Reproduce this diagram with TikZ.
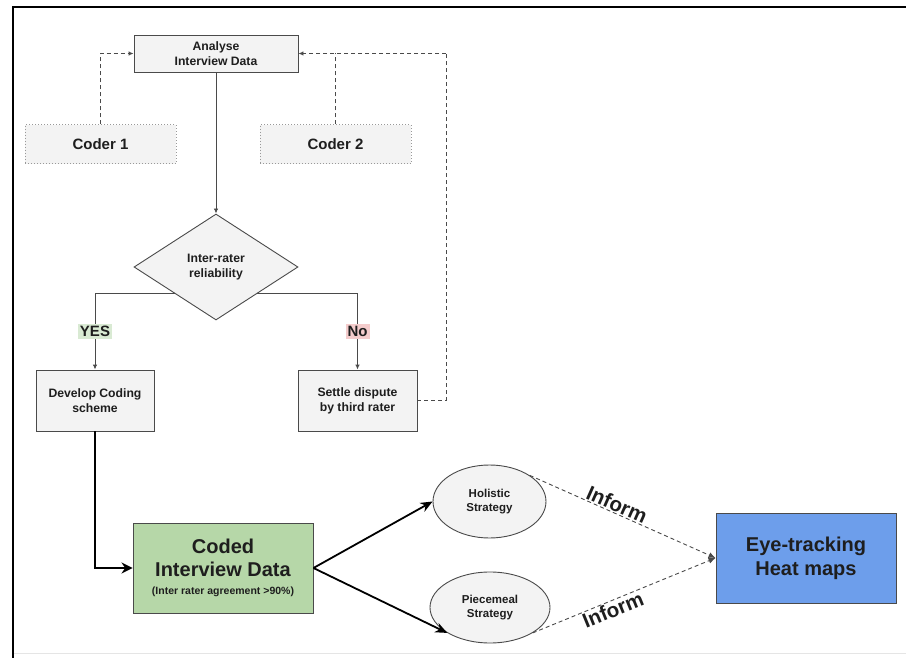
\documentclass[tikz,border=0pt]{standalone}
\usepackage{fontspec}
\setmainfont{Liberation Sans}
\usetikzlibrary{arrows.meta,shapes.geometric,calc}
\definecolor{boxf}{HTML}{F3F3F3}
\definecolor{bordc}{HTML}{4A4A4A}
\definecolor{txt}{HTML}{1E1E1E}
\definecolor{greenf}{HTML}{B6D7A8}
\definecolor{bluef}{HTML}{6D9EEB}
\definecolor{yesbg}{HTML}{D9EAD3}
\definecolor{nobg}{HTML}{F4CCCC}
\tikzset{
  base/.style={draw=bordc, fill=boxf, line width=0.9pt, align=center, text=txt, inner sep=0pt,
    font=\fontsize{12.2}{15}\selectfont\bfseries},
  coderbox/.style={fill=boxf, draw=gray!80, dotted, line width=1pt, align=center, text=txt,
    minimum width=151pt, minimum height=39pt, inner sep=0pt, font=\fontsize{15}{18}\selectfont\bfseries},
  flow/.style={draw=bordc, line width=0.9pt, -{Latex[length=5pt,width=4.5pt]}},
  fbline/.style={draw=bordc, line width=0.9pt, dash pattern=on 4pt off 3pt},
  fbarrow/.style={fbline, -{Latex[length=5pt,width=4.5pt]}},
  bigarrow/.style={draw=black, line width=2.2pt, -{Stealth[length=11pt,width=11pt]}},
  midarrow/.style={draw=black, line width=1.8pt, -{Stealth[length=12pt,width=10pt]}},
  informarrow/.style={draw=bordc, line width=0.9pt, dash pattern=on 4pt off 3pt, -{Latex[length=7pt,width=6pt]}},
  tag/.style={inner sep=2pt, text=txt, font=\fontsize{15}{17}\selectfont\bfseries},
  bigtxt/.style={font=\fontsize{20}{24}\selectfont\bfseries},
  strat/.style={base, ellipse, font=\fontsize{11.5}{14.5}\selectfont\bfseries},
  informlbl/.style={text=txt, font=\fontsize{20.5}{22}\selectfont\bfseries, inner sep=1pt}
}
\begin{document}
\begin{tikzpicture}[x=1pt,y=-1pt]
\useasboundingbox (0,0) rectangle (906,658);
% frame
\draw[gray!20, line width=1pt] (13,653) -- (906,653);
\draw[black, line width=2pt] (13,658) -- (13,7) -- (906,7);

% nodes
\node[base, minimum width=164pt, minimum height=37pt] (analyse) at (216,53.5) {Analyse\\Interview Data};
\node[coderbox] (coder1) at (100.5,144.5) {Coder 1};
\node[coderbox] (coder2) at (335.5,144.5) {Coder 2};
\node[base, diamond, minimum width=164pt, minimum height=106pt] (dia) at (216,267) {Inter-rater\\reliability};
\node[base, minimum width=118pt, minimum height=61pt] (develop) at (95,400.5) {Develop Coding\\scheme};
\node[base, minimum width=119pt, minimum height=61pt] (settle) at (357.5,400.5) {Settle dispute\\by third rater};
\node[base, bigtxt, fill=greenf, minimum width=180pt, minimum height=90pt] (coded) at (223,568)
  {Coded\\[-1pt]Interview Data\\[-6pt]{\fontsize{10.5}{12}\selectfont (Inter rater agreement >90\%)}};
\node[strat, minimum width=113pt, minimum height=73pt] (holistic) at (489.5,501.5) {Holistic\\Strategy};
\node[strat, minimum width=120pt, minimum height=71pt] (piece) at (490,607.5) {Piecemeal\\Strategy};
\node[base, bigtxt, fill=bluef, minimum width=180pt, minimum height=90pt] (eye) at (806,558) {Eye-tracking\\Heat maps};

% coordinates for feedback loop
\coordinate (fbtop) at (446,53.5);
\coordinate (c2join) at (335.5,53.5);

% connectors
\draw[flow] (analyse.south) -- (dia.north);
\draw[flow] (dia.south west) -| node[pos=0.75, tag, fill=yesbg] {YES} (develop.north);
\draw[flow] (dia.south east) -| node[pos=0.75, tag, fill=nobg] {No} (settle.north);

\draw[fbarrow] (coder1.north) |- (analyse.west);
\draw[fbline] (settle.east) -| (fbtop);
\draw[fbarrow] (fbtop) -- (analyse.east);
\draw[fbline] (coder2.north) -- (c2join);

\draw[bigarrow] (develop.south) |- (coded.west);
\draw[midarrow] (coded.east) -- (holistic.west);
\draw[midarrow] (coded.east) -- (piece.south west);

\draw[informarrow] (holistic.north east) -- node[pos=0.45, sloped, above, informlbl] {Inform} (eye.west);
\draw[informarrow] (piece.south east) -- node[pos=0.42, sloped, below, informlbl] {Inform} (eye.west);
\end{tikzpicture}
\end{document}
